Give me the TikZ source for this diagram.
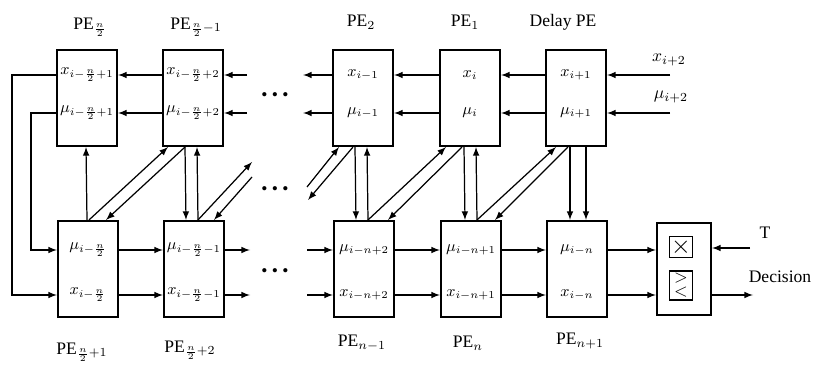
\documentclass[tikz,border=0pt]{standalone}
\usepackage{amsmath, amssymb}
\usepackage{fontspec}
\setmainfont{Liberation Serif}
\usetikzlibrary{calc}
\tikzstyle{every picture}=[->,>=latex,line width=0.7pt]
\tikzstyle{pebox}=[rectangle,draw,line width=1.2pt,minimum width=1.2cm,minimum height=1.92cm,inner sep=0pt]
\tikzstyle{cell}=[font=\small,inner sep=1pt]
\tikzstyle{opbox}=[rectangle,draw,line width=0.9pt,minimum width=0.46cm,inner sep=1pt]

\begin{document}
\begin{tikzpicture}[x=0.02cm,y=-0.02cm]
    \useasboundingbox (0,0) rectangle (819,375);
    % Upper row of PEs
    \node[pebox] (peA) at (87,98) {};
    \node[pebox] (peB) at (193,98) {};
    \node[pebox] (peTwo) at (363,98) {};
    \node[pebox] (peOne) at (470,98) {};
    \node[pebox] (peDelay) at (576,98) {};
    \node[cell] (ax) at (87,75) {$x_{i-\frac{n}{2}+1}$};
    \node[cell] (am) at (87,113) {$\mu_{i-\frac{n}{2}+1}$};
    \node[cell] (bx) at (193,75) {$x_{i-\frac{n}{2}+2}$};
    \node[cell] (bm) at (193,113) {$\mu_{i-\frac{n}{2}+2}$};
    \node[cell] (tx) at (363,75) {$x_{i-1}$};
    \node[cell] (tm) at (363,113) {$\mu_{i-1}$};
    \node[cell] (ox) at (470,75) {$x_{i}$};
    \node[cell] (om) at (470,113) {$\mu_{i}$};
    \node[cell] (yx) at (576,75) {$x_{i+1}$};
    \node[cell] (ym) at (576,113) {$\mu_{i+1}$};
    % upper labels
    \node (lA) at (90,27) {PE$_{\frac{n}{2}}$};
    \node (lB) at (196,27) {PE$_{\frac{n}{2}-1}$};
    \node (lTwo) at (361,22) {PE$_2$};
    \node (lOne) at (465,22) {PE$_1$};
    \node (lDelay) at (563,22) {Delay PE};
    % Lower row of PEs
    \node[pebox] (peC) at (88,269) {};
    \node[pebox] (peD) at (194,269) {};
    \node[pebox] (peNm) at (364,269) {};
    \node[pebox] (peN) at (471,269) {};
    \node[pebox] (peNp) at (577,269) {};
    \node[cell] (cm) at (88,250) {$\mu_{i-\frac{n}{2}}$};
    \node[cell] (cx) at (88,295) {$x_{i-\frac{n}{2}}$};
    \node[cell] (dm) at (194,250) {$\mu_{i-\frac{n}{2}-1}$};
    \node[cell] (dx) at (194,295) {$x_{i-\frac{n}{2}-1}$};
    \node[cell] (nmm) at (364,250) {$\mu_{i-n+2}$};
    \node[cell] (nmx) at (364,295) {$x_{i-n+2}$};
    \node[cell] (nm) at (471,250) {$\mu_{i-n+1}$};
    \node[cell] (nx) at (471,295) {$x_{i-n+1}$};
    \node[cell] (npm) at (577,250) {$\mu_{i-n}$};
    \node[cell] (npx) at (577,295) {$x_{i-n}$};
    % lower labels
    \node (lC) at (82,352) {PE$_{\frac{n}{2}+1}$};
    \node (lD) at (190,350) {PE$_{\frac{n}{2}+2}$};
    \node (lNm) at (362,343) {PE$_{n-1}$};
    \node (lN) at (468,343) {PE$_{n}$};
    \node (lNp) at (580,341) {PE$_{n+1}$};
    % decision unit
    \node[rectangle,draw,line width=1.2pt,minimum width=1.08cm,minimum height=1.84cm] (decbox) at (684,269) {};
    \node[opbox,minimum height=0.42cm] (mulbox) at (681,247) {\Large$\times$};
    \node[opbox,minimum height=0.58cm,align=center] (cmpbox) at (681,285.5) {$>$\\[-4pt]$<$};
    % middle dots
    \node (dotsA) at (275,97) {\textbullet\ \textbullet\ \textbullet};
    \node (dotsB) at (275,191) {\textbullet\ \textbullet\ \textbullet};
    \node (dotsC) at (275,273) {\textbullet\ \textbullet\ \textbullet};
    % free ends
    \coordinate (bxin) at (247,75);
    \coordinate (bmin) at (247,113);
    \coordinate (txout) at (303,75);
    \coordinate (tmout) at (303,113);
    \coordinate (xin) at (670,75);
    \coordinate (muin) at (670,113);
    \coordinate (dmout) at (250,250);
    \coordinate (dxout) at (250,295);
    \coordinate (nmin) at (307,250);
    \coordinate (nxin) at (307,295);
    \coordinate (tin) at (750,248);
    \coordinate (dout) at (753,295);
    \node (lxin) at (669,60) {$x_{i+2}$};
    \node (lmin) at (671,97) {$\mu_{i+2}$};
    \node (lT) at (765,233) {T};
    \node (lDec) at (780,277) {Decision};
    % upper row, right to left
    \draw (bx -| peB.west) -- (ax -| peA.east);
    \draw (bm -| peB.west) -- (am -| peA.east);
    \draw (bxin) -- (bx -| peB.east);
    \draw (bmin) -- (bm -| peB.east);
    \draw (tx -| peTwo.west) -- (txout);
    \draw (tm -| peTwo.west) -- (tmout);
    \draw (ox -| peOne.west) -- (tx -| peTwo.east);
    \draw (om -| peOne.west) -- (tm -| peTwo.east);
    \draw (yx -| peDelay.west) -- (ox -| peOne.east);
    \draw (ym -| peDelay.west) -- (om -| peOne.east);
    \draw (xin) -- (yx -| peDelay.east);
    \draw (muin) -- (ym -| peDelay.east);
    % wrap round on the left
    \draw (ax -| peA.west) -- ++(-44,0) |- (cx -| peC.west);
    \draw (am -| peA.west) -- ++(-25,0) |- (cm -| peC.west);
    % lower row, left to right
    \draw (cm -| peC.east) -- (dm -| peD.west);
    \draw (cx -| peC.east) -- (dx -| peD.west);
    \draw (dm -| peD.east) -- (dmout);
    \draw (dx -| peD.east) -- (dxout);
    \draw (nmin) -- (nmm -| peNm.west);
    \draw (nxin) -- (nmx -| peNm.west);
    \draw (nmm -| peNm.east) -- (nm -| peN.west);
    \draw (nmx -| peNm.east) -- (nx -| peN.west);
    \draw (nm -| peN.east) -- (npm -| peNp.west);
    \draw (nx -| peN.east) -- (npx -| peNp.west);
    \draw (npm -| peNp.east) -- (npm -| decbox.west);
    \draw (npx -| peNp.east) -- (npx -| decbox.west);
    \draw (tin) -- (tin -| decbox.east);
    \draw (npx -| decbox.east) -- (dout);
    % first column
    \draw ($(peC.north)+(-1,0)$) -- ($(peA.south)+(-1,0)$);
    \draw ($(peC.north)+(1,0)$) -- ($(peB.south)+(-25,0)$);
    \draw ($(peB.south)+(-8,0)$) -- ($(peC.north)+(18,0)$);
    % second column
    \draw ($(peB.south)+(-8,0)$) -- ($(peD.north)+(-8,0)$);
    \draw ($(peD.north)+(4,0)$) -- ($(peB.south)+(4,0)$);
    \coordinate (dup) at (252,162);
    \coordinate (ddn) at (252,177);
    \draw ($(peD.north)+(4,0)$) -- (dup);
    \draw (ddn) -- ($(peD.north)+(20,0)$);
    % into PE 2
    \coordinate (tup) at (307,187);
    \coordinate (tdn) at (308,200);
    \draw (tup) -- ($(peTwo.south)+(-24,0)$);
    \draw ($(peTwo.south)+(-10,0)$) -- (tdn);
    % third column
    \draw ($(peTwo.south)+(-8,0)$) -- ($(peNm.north)+(-8,0)$);
    \draw ($(peNm.north)+(4,0)$) -- ($(peTwo.south)+(4,0)$);
    \draw ($(peNm.north)+(4,0)$) -- ($(peOne.south)+(-24,0)$);
    \draw ($(peOne.south)+(-8,0)$) -- ($(peNm.north)+(24,0)$);
    % fourth column
    \draw ($(peOne.south)+(-6,0)$) -- ($(peN.north)+(-6,0)$);
    \draw ($(peN.north)+(6,0)$) -- ($(peOne.south)+(6,0)$);
    \draw ($(peN.north)+(6,0)$) -- ($(peDelay.south)+(-20,0)$);
    \draw ($(peDelay.south)+(-8,0)$) -- ($(peN.north)+(24,0)$);
    % delay column
    \draw ($(peDelay.south)+(-6,0)$) -- ($(peNp.north)+(-7,0)$);
    \draw ($(peDelay.south)+(10,0)$) -- ($(peNp.north)+(9,0)$);
\end{tikzpicture}
\end{document}
